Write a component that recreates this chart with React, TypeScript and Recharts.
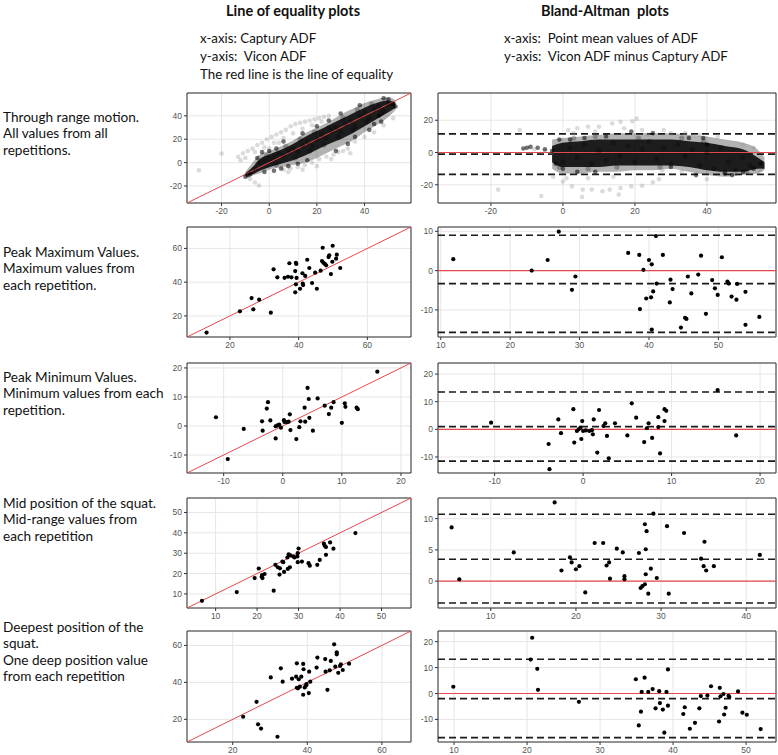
import React from "react"
import {
  ComposedChart,
  Scatter,
  Area,
  XAxis,
  YAxis,
  CartesianGrid,
  ReferenceLine,
  ReferenceArea,
} from "recharts"

type Pt = [number, number]
// [x, haloLow, coreLow, coreHigh, haloHigh] – outline of the dense point cloud
type Band = [number, number, number, number, number]

// ---- Through range motion: all values from all repetitions ----
const thruEqBand: Band[] = [
  [-10, -12.5, -11.5, -9, -8],
  [-7, -11, -10, -4, 0],
  [-4, -9, -7, 3, 7],
  [0, -6, -4, 7, 10],
  [5, -4, -1, 11, 14],
  [10, -2, 2, 16, 19],
  [15, 0, 6, 22, 25],
  [20, 4, 11, 27, 30],
  [25, 9, 16, 32, 35],
  [30, 14, 20, 37, 41],
  [35, 19, 25, 42, 46],
  [40, 26, 31, 47, 51],
  [45, 32, 37, 51, 54],
  [50, 39, 43, 53, 56],
  [53, 45, 47, 51, 53],
]
const thruEqGrey: Pt[] = [
  [-29.5, -6.6], [-20, 7.7], [-13, 5], [-11, 8], [-9, 10], [-7, 12], [-5, 15], [-3, 17],
  [-1, 20], [1, 22], [3, 24], [5, 26], [7, 28], [9, 31], [11, 33], [13, 34], [15, 35],
  [17, 36], [19, 37], [21, 38], [23, 39], [25, 40], [-4.3, -19.5], [6, -6], [9, -5],
  [12, -4], [15, -2], [18, 0], [21, 3], [24, 5], [27, 7], [29, 9], [31, 10], [33, 12],
  [36, 18], [40, 22], [44, 26], [48, 32], [52, 38], [-8, -14], [0, 12], [4, 17],
  [-10, 4], [-6, 9], [-2, 13], [2, 17], [6, 21], [10, 25], [14, 29], [18, 32], [22, 35],
  [-12, 2], [8, -8], [14, -6], [20, -3], [26, 3], [-6, -17], [34, 8],
]
const thruEqDark: Pt[] = [
  [-10, -12], [-9, -11], [-8, -10], [-5, 4], [-3, 9], [0, 10], [3, 12], [2, -7], [5, -5],
  [8, -3], [12, -1], [16, 2], [6, 18], [28, 10], [33, 16], [36, 22], [42, 28], [44, 33],
  [46, 40], [50, 54], [52, 50], [48, 55], [30, 42], [25, 36], [20, 31], [38, 49], [47, 35],
  [53, 48], [14, 25], [-2, -8],
]
const thruEqSpeck: Pt[] = [
  [-6, -5], [-4, 0], [-2, 2], [0, 3], [2, 5], [4, 8], [6, 6], [8, 10], [10, 12], [12, 9],
  [14, 15], [16, 18], [18, 14], [20, 20], [22, 24], [24, 21], [26, 27], [28, 30], [30, 26],
  [32, 33], [34, 36], [36, 31], [38, 40], [40, 43], [42, 38], [44, 46], [46, 48], [48, 44],
  [50, 50], [11, 4], [17, 10], [23, 15], [29, 22], [35, 28], [41, 35], [47, 42], [3, -2],
  [-1, 6], [7, 14], [13, 20], [19, 26], [25, 30], [31, 38], [37, 45], [43, 50],
]
const thruBaBand: Band[] = [
  [-3, -10, -6, 4, 8],
  [0, -13, -9, 6, 9],
  [5, -13, -9, 7, 10],
  [10, -12, -9, 8, 11],
  [15, -12, -8, 8, 12],
  [20, -11, -8, 8, 12],
  [25, -11, -8, 8, 12],
  [30, -10, -8, 8, 12],
  [35, -12, -9, 7, 11],
  [40, -14, -11, 6, 10],
  [45, -15, -12, 4, 8],
  [50, -14, -12, 2, 6],
  [54, -13, -10, -3, 2],
  [56, -11, -10, -6, -3],
]
const thruBaGrey: Pt[] = [
  [-18, -23], [-12, 14], [-6, -27], [1.5, 14], [4, 15], [7, 16], [10, 16], [13.7, 18],
  [16, 19], [19.3, 19.4], [20.5, 21], [22, 14], [23.6, 11], [-2.7, -15], [0, -18],
  [2.5, -21], [5.5, -23], [8, -23], [11, -24], [13, -23], [16, -22], [19, -21], [22, -20.6],
  [25, -18.5], [26.7, -16.5], [27.6, -11], [5.3, -27.6], [15.5, -26], [40, -16.5],
  [54.7, -11], [-8, 2], [-5, 1], [-3, 0], [30, 12], [34, 12], [38, 11], [43, 10], [50, 5],
  [53, 3], [3, 12], [9, 13], [17, 15], [28, 14], [1, -16], [7, -16], [14, -15], [33, -12],
]
const thruBaDark: Pt[] = [
  [-11, 2.5], [-10, 3], [-9, 3.5], [-7, 3], [-5, 2], [-3, 1], [-2, -7], [0, -10], [2, 8],
  [4, -12], [6, 9], [9, -12], [12, 10], [19, 13], [25, 12], [30, -9], [35, 9], [39, 9],
  [40, 5], [45, -13], [47, -14], [50, -12], [53, -10], [55, -7], [-1, 8], [37, -14],
]
const thruBaSpeck: Pt[] = [
  [0, -6], [2, 3], [4, -3], [6, 5], [8, -7], [10, 1], [12, -5], [14, 6], [16, -2], [18, 4],
  [20, -6], [22, 2], [24, 7], [26, -4], [28, 3], [30, -7], [32, 5], [34, -2], [36, 2],
  [38, -8], [40, 0], [42, -10], [44, 3], [46, -6], [48, -11], [50, -3], [52, -8], [3, 9],
  [9, 10], [15, -9], [21, 9], [27, -9], [33, 9], [39, 7], [45, -12], [51, -12], [-1, -9],
  [7, -10],
]
const thruBaLimits = [11.5, -1, -13.5]

// ---- Peak maximum values ----
const maxEq: Pt[] = [
  [13.2, 10.1], [22.9, 22.7], [26.3, 30.6], [26.8, 23.9], [28.5, 29.6], [31.9, 21.9],
  [32.7, 47.6], [33.8, 42.9], [35.9, 42.6], [36.9, 43.2], [37.3, 51.2], [37.9, 42.9],
  [39.0, 46.6], [39.2, 51.5], [39.3, 50.8], [39.4, 42.5], [39.2, 38.7], [39.0, 34.0],
  [40.4, 36.1], [41.1, 45.3], [41.2, 39.1], [41.3, 38.3], [41.9, 43.7], [42.5, 53.3],
  [43.1, 48.4], [43.9, 39.5], [44.8, 45.6], [45.3, 36.1], [46.4, 46.8], [46.8, 52.5],
  [47.2, 51.5], [47.6, 50.8], [48.0, 50.0], [48.7, 54.9], [48.9, 55.9], [49.4, 44.8],
  [49.8, 52.1], [50.9, 53.9], [51.1, 56.3], [52.1, 48.4], [47.0, 60.4], [49.9, 61.6],
]
const maxBa: Pt[] = [
  [11.8, 2.9], [23.1, 0], [25.4, 2.7], [27.0, 9.9], [28.9, -4.9], [29.4, -1.5], [37.0, 4.5],
  [38.6, 4.0], [38.7, -9.8], [39.2, 0.2], [39.6, -7.1], [40.0, 2.7], [40.3, -6.8],
  [40.4, 1.6], [40.4, -15], [40.6, -5.3], [41.1, -3.3], [41.0, 8.8], [42.0, 4.0],
  [43.0, -8.1], [43.1, -2.3], [43.4, -4.7], [44.6, -14.5], [45.2, -12], [45.4, -12.3],
  [45.6, -1.5], [46.1, -5.8], [47.1, -1.0], [47.5, 3.8], [48.2, -11], [49.1, -2.4],
  [49.5, -4.5], [49.9, -6.2], [50.5, 3.4], [51.3, -2.8], [51.5, -3.3], [51.9, -6.6],
  [52.6, -7.4], [52.7, -3.4], [53.9, -5.4], [53.9, -13.8], [55.9, -11.8],
]
const maxBaLimits = [9, -3.3, -15.7]

// ---- Peak minimum values ----
const minEq: Pt[] = [
  [-11.3, 3.0], [-9.3, -11.4], [-6.6, -1.0], [-3.5, 1.6], [-3.4, -1.6], [-2.7, 6.0],
  [-2.5, 8.2], [-2.1, 1.9], [-1.2, -4.3], [-1.2, -0.1], [-0.9, 0.2], [-0.6, 0.5],
  [-0.3, -0.6], [0.2, 2.0], [0.3, 1.4], [0.7, 1.3], [1.0, 1.5], [1.2, 4.0], [1.3, -1.4],
  [2.3, -4.5], [2.8, -0.4], [3.0, 1.6], [3.7, 6.3], [3.8, 1.5], [4.2, 13.1], [4.4, 9.3],
  [4.5, 2.8], [5.1, -1.6], [5.9, 9.5], [7.1, 7.0], [7.8, 4.1], [8.2, 6.3], [8.6, 8.2],
  [10.0, 1.1], [10.5, 7.8], [10.6, 6.6], [12.5, 6.3], [12.7, 5.8], [16.0, 18.7],
]
const minBa: Pt[] = [
  [-10.4, 2.4], [-3.9, -5.3], [-3.8, -14.4], [-2.8, 3.6], [-2.5, -1.4], [-1.1, 7.3],
  [-1.0, -4.8], [-0.7, -0.6], [-0.5, 0], [-0.3, 0.6], [-0.2, -3.5], [-0.1, 3.0], [0.0, -0.6],
  [0.3, -0.4], [0.7, -0.6], [1.0, -0.3], [1.1, -1.8], [1.2, 3.6], [1.6, -8.4], [1.8, 7.0],
  [2.3, 1.2], [2.5, 2.2], [2.7, -2.4], [2.9, -10.5], [3.6, 2.2], [5.0, -2.2], [5.5, 9.4],
  [6.0, 4.2], [6.9, -4.6], [7.2, 0.4], [7.4, 2.2], [7.8, -3.1], [8.5, 4.4], [8.5, 0.8],
  [8.7, -8.7], [9.2, 7.3], [9.4, 6.7], [9.2, 3.0], [15.2, 14.2], [17.3, -2.2],
]
const minBaLimits = [13.5, 1, -11.5]

// ---- Mid position of the squat ----
const midEq: Pt[] = [
  [6.7, 6.6], [15.1, 10.9], [19.4, 17.8], [20.4, 22.5], [21.1, 18.5], [21.2, 19.3],
  [21.3, 17.8], [21.8, 19.8], [24.0, 11.6], [24.4, 24.3], [25.0, 23.1], [25.4, 19.5],
  [25.5, 22.6], [26.1, 25.9], [26.5, 20.8], [26.3, 25.6], [27.3, 27.9], [27.4, 22.3],
  [27.6, 29.4], [27.9, 23.1], [28.0, 29.0], [28.7, 28.4], [29.0, 27.9], [29.7, 28.4],
  [29.8, 25.6], [29.8, 30.0], [30.0, 32.3], [30.8, 25.9], [32.4, 25.1], [32.7, 23.9],
  [34.5, 24.3], [35.1, 26.7], [36.1, 34.7], [36.3, 33.6], [36.6, 33.0], [36.6, 29.2],
  [37.6, 35.3], [38.4, 32.2], [43.7, 39.9],
]
const midBa: Pt[] = [
  [5.4, 8.6], [6.3, 0.3], [12.7, 4.6], [17.5, 12.6], [18.3, 1.7], [19.3, 3.8], [19.5, 3.0],
  [20.0, 1.9], [20.4, 2.4], [21.1, -1.8], [22.2, 6.1], [23.2, 6.1], [23.6, 2.5], [23.9, 3.0],
  [24.0, 0.4], [24.8, 5.2], [25.5, 4.6], [25.7, 0.8], [25.7, 0.3], [27.4, 4.5], [27.6, -1.1],
  [27.8, -0.8], [28.1, 9.1], [28.1, -0.5], [28.2, 5.1], [28.2, 1.1], [28.3, 8.0],
  [28.5, -2.0], [28.8, 2.0], [29.1, 10.8], [29.5, 0.5], [30.7, 8.8], [30.9, -2.0],
  [32.7, 7.7], [34.7, 3.6], [35.0, 2.4], [35.1, 6.3], [35.3, 1.7], [36.2, 2.4], [41.6, 4.2],
]
const midBaLimits = [10.7, 3.5, -3.5]

// ---- Deepest position of the squat ----
const deepEq: Pt[] = [
  [22.8, 21.4], [26.4, 29.5], [26.8, 17.3], [27.6, 15.0], [30.2, 42.7], [32.0, 10.6],
  [32.9, 47.6], [33.4, 40.4], [35.9, 42.0], [37.0, 43.1], [37.2, 50.3], [37.2, 37.1],
  [37.5, 36.8], [37.7, 41.7], [38.0, 37.7], [38.4, 43.1], [38.9, 50.0], [39.0, 47.1],
  [38.9, 33.3], [39.3, 37.3], [39.7, 38.4], [39.8, 39.1], [40.4, 34.2], [40.5, 45.8],
  [40.8, 40.4], [42.5, 48.0], [42.7, 53.4], [44.8, 52.6], [44.9, 45.8], [45.4, 36.0],
  [46.0, 46.5], [46.3, 51.6], [47.2, 60.6], [47.5, 48.5], [47.9, 56.3], [47.9, 55.2],
  [48.3, 45.2], [48.8, 48.9], [49.0, 49.8], [49.5, 46.7], [51.2, 50.1],
]
const deepBa: Pt[] = [
  [9.9, 2.6], [20.7, 21.5], [20.5, 13.1], [21.4, 9.5], [21.5, 1.4], [27.1, -3.2], [34.9, 5.5],
  [35.3, -12.3], [35.6, -7.0], [35.7, 0.6], [36.1, 6.1], [36.6, 0.6], [37.2, 1.7],
  [37.6, -5.7], [38.1, 0.9], [38.2, -3.7], [38.6, -6.2], [39.1, 0.6], [39.3, 9.3],
  [39.3, -4.7], [38.8, -15.1], [41.4, -7.9], [41.6, -5.3], [42.3, -13.6], [43.0, -11.3],
  [43.6, -5.7], [43.8, -1.0], [44.7, -0.8], [45.2, 2.8], [46.3, -10.8], [46.4, 2.2],
  [46.5, -1.1], [46.9, -0.2], [47.0, -8.1], [47.2, -5.5], [47.6, -0.9], [47.7, -1.3],
  [48.9, 0.8], [49.5, -7.4], [50.1, -8.2], [52.0, -13.7],
]
const deepBaLimits = [13.2, -2, -17]

const rowTitles = [
  ["Through range motion.", "All values from all", "repetitions."],
  ["Peak Maximum Values.", "Maximum values from", "each repetition."],
  ["Peak Minimum Values.", "Minimum values from each", "repetition."],
  ["Mid position of the squat.", "Mid-range values from", "each repetition"],
  ["Deepest position of the", "squat.", "One deep position value", "from each repetition"],
]

const RED = "#e5484d"
const AXIS_FONT = "'Liberation Sans', Arial, sans-serif"
const TEXT_FONT = "Lato, 'Open Sans', sans-serif"

type Layer = { pts: Pt[]; r: number; fill: string; opacity: number }

type PanelProps = {
  left: number
  top: number
  width: number
  height: number
  xDomain: [number, number]
  yDomain: [number, number]
  xTicks: number[]
  yTicks: number[]
  layers: Layer[]
  band?: Band[]
  limits?: number[]
}

function minors(major: number[]) {
  const step = major[1] - major[0]
  return [major[0] - step / 2, ...major.map((m) => m + step / 2)]
}

const MARGIN = { top: 2, right: 2, bottom: 0, left: 0 }

function Panel({ left, top, width, height, xDomain, yDomain, xTicks, yTicks, layers, band, limits }: PanelProps) {
  const rows = (band || []).map(([x, hl, cl, ch, hh]) => ({ x, halo: [hl, hh], core: [cl, ch] }))
  const tick = { fontSize: 8.5, fill: "#555", fontFamily: AXIS_FONT }
  const lo = Math.max(xDomain[0], yDomain[0])
  const hi = Math.min(xDomain[1], yDomain[1])
  const mx = minors(xTicks).filter((v) => v > xDomain[0] && v < xDomain[1])
  const my = minors(yTicks).filter((v) => v > yDomain[0] && v < yDomain[1])
  return (
    <div style={{ position: "absolute", left, top, width, height }}>
      {/* minor grid, drawn underneath */}
      <div style={{ position: "absolute", left: 0, top: 0 }}>
        <ComposedChart width={width} height={height} data={[]} margin={MARGIN}>
          <CartesianGrid stroke="#f1f1f1" strokeWidth={0.7} />
          <XAxis type="number" dataKey="x" domain={xDomain} ticks={mx} allowDataOverflow height={20} tick={false} tickLine={false} axisLine={false} />
          <YAxis type="number" dataKey="y" domain={yDomain} ticks={my} allowDataOverflow width={32} tick={false} tickLine={false} axisLine={false} />
        </ComposedChart>
      </div>
      <div style={{ position: "absolute", left: 0, top: 0 }}>
        <ComposedChart width={width} height={height} data={rows} margin={MARGIN}>
          <CartesianGrid stroke="#e6e6e6" strokeWidth={1} />
          <XAxis
            type="number"
            dataKey="x"
            domain={xDomain}
            ticks={xTicks}
            allowDataOverflow
            interval={0}
            height={20}
            tickSize={3}
            tickMargin={2}
            axisLine={false}
            tickLine={{ stroke: "#333" }}
            tick={tick}
          />
          <YAxis
            type="number"
            dataKey="y"
            domain={yDomain}
            ticks={yTicks}
            allowDataOverflow
            interval={0}
            width={32}
            tickSize={3}
            tickMargin={2}
            axisLine={false}
            tickLine={{ stroke: "#333" }}
            tick={tick}
          />
          {band && (
            <Area dataKey="halo" type="monotone" stroke="none" fill="#000" fillOpacity={0.3} dot={false} activeDot={false} isAnimationActive={false} />
          )}
          {band && (
            <Area dataKey="core" type="monotone" stroke="none" fill="#000" fillOpacity={0.84} dot={false} activeDot={false} isAnimationActive={false} />
          )}
          {layers.map((l, i) => (
            <Scatter
              key={i}
              data={l.pts.map(([x, y]) => ({ x, y }))}
              isAnimationActive={false}
              shape={(p: any) => <circle cx={p.cx} cy={p.cy} r={l.r} fill={l.fill} fillOpacity={l.opacity} />}
            />
          ))}
          {limits
            ? [
                <ReferenceLine key="zero" y={0} stroke={RED} strokeWidth={1.2} />,
                ...limits.map((v) => (
                  <ReferenceLine key={"l" + v} y={v} stroke="#1a1a1a" strokeWidth={1.7} strokeDasharray="7 4" />
                )),
              ]
            : (
              <ReferenceLine segment={[{ x: lo, y: lo }, { x: hi, y: hi }]} stroke={RED} strokeWidth={1} ifOverflow="visible" />
            )}
          <ReferenceArea x1={xDomain[0]} x2={xDomain[1]} y1={yDomain[0]} y2={yDomain[1]} fill="none" stroke="#333" strokeWidth={1} ifOverflow="visible" />
        </ComposedChart>
      </div>
    </div>
  )
}

const eqPts = (pts: Pt[]): Layer[] => [{ pts, r: 2.1, fill: "#000", opacity: 1 }]

export default function App() {
  const plotTops = [93, 227, 363, 498, 631]
  const L = { left: 155, width: 258 }
  const R = { left: 406, width: 372 }
  const h = 132
  const titleTops = [117, 252, 377, 503, 627]

  return (
    <div style={{ position: "absolute", left: 0, top: 0, width: 778, height: 755, background: "#fff", fontFamily: TEXT_FONT, color: "#111" }}>
      <div style={{ position: "absolute", left: 226, top: 2, fontSize: 14.5, fontWeight: 700 }}>Line of equality plots</div>
      <div style={{ position: "absolute", left: 541, top: 2, fontSize: 14.5, fontWeight: 700, whiteSpace: "pre" }}>Bland-Altman  plots</div>
      <div style={{ position: "absolute", left: 200, top: 29, fontSize: 13.3, lineHeight: "18px", whiteSpace: "pre" }}>
        <div>x-axis: Captury ADF</div>
        <div>y-axis:  Vicon ADF</div>
        <div>The red line is the line of equality</div>
      </div>
      <div style={{ position: "absolute", left: 504, top: 29, fontSize: 13.3, lineHeight: "18px", whiteSpace: "pre" }}>
        <div>x-axis:  Point mean values of ADF</div>
        <div>y-axis:  Vicon ADF minus Captury ADF</div>
      </div>

      {rowTitles.map((lines, i) => (
        <div key={i} style={{ position: "absolute", left: 3, top: titleTops[i] - 8, fontSize: 13.6, lineHeight: "16.3px" }}>
          {lines.map((t) => (
            <div key={t}>{t}</div>
          ))}
        </div>
      ))}

      <Panel
        {...L} top={plotTops[0] - 2} height={h}
        xDomain={[-34.5, 59.5]} yDomain={[-34.5, 59.5]}
        xTicks={[-20, 0, 20, 40]} yTicks={[-20, 0, 20, 40]}
        band={thruEqBand}
        layers={[
          { pts: thruEqGrey, r: 2.3, fill: "#888", opacity: 0.3 },
          { pts: thruEqSpeck, r: 2.6, fill: "#000", opacity: 0.25 },
          { pts: thruEqDark, r: 2.3, fill: "#000", opacity: 0.55 },
        ]}
      />
      <Panel
        {...R} top={plotTops[0] - 2} height={h}
        xDomain={[-34.7, 59.2]} yDomain={[-31.3, 36.9]}
        xTicks={[-20, 0, 20, 40]} yTicks={[-20, 0, 20]}
        band={thruBaBand}
        layers={[
          { pts: thruBaGrey, r: 2.3, fill: "#888", opacity: 0.3 },
          { pts: thruBaSpeck, r: 2.6, fill: "#000", opacity: 0.25 },
          { pts: thruBaDark, r: 2.3, fill: "#000", opacity: 0.55 },
        ]}
        limits={thruBaLimits}
      />

      <Panel
        {...L} top={plotTops[1] - 2} height={h}
        xDomain={[7.5, 72.7]} yDomain={[7.5, 72.7]}
        xTicks={[20, 40, 60]} yTicks={[20, 40, 60]}
        layers={eqPts(maxEq)}
      />
      <Panel
        {...R} top={plotTops[1] - 2} height={h}
        xDomain={[9.6, 58.3]} yDomain={[-16.9, 11.1]}
        xTicks={[10, 20, 30, 40, 50]} yTicks={[-10, 0, 10]}
        layers={eqPts(maxBa)}
        limits={maxBaLimits}
      />

      <Panel
        {...L} top={plotTops[2] - 2} height={h}
        xDomain={[-16.2, 21.7]} yDomain={[-16.2, 21.7]}
        xTicks={[-10, 0, 10, 20]} yTicks={[-10, 0, 10, 20]}
        layers={eqPts(minEq)}
      />
      <Panel
        {...R} top={plotTops[2] - 2} height={h}
        xDomain={[-16.4, 21.8]} yDomain={[-15.8, 24]}
        xTicks={[-10, 0, 10, 20]} yTicks={[-10, 0, 10, 20]}
        layers={eqPts(minBa)}
        limits={minBaLimits}
      />

      <Panel
        {...L} top={plotTops[3] - 2} height={h}
        xDomain={[3.1, 57.1]} yDomain={[3.1, 57.1]}
        xTicks={[10, 20, 30, 40, 50]} yTicks={[10, 20, 30, 40, 50]}
        layers={eqPts(midEq)}
      />
      <Panel
        {...R} top={plotTops[3] - 2} height={h}
        xDomain={[3.8, 43.5]} yDomain={[-4.3, 13.3]}
        xTicks={[10, 20, 30, 40]} yTicks={[0, 5, 10]}
        layers={eqPts(midBa)}
        limits={midBaLimits}
      />

      <Panel
        {...L} top={plotTops[4] - 2} height={h + 1}
        xDomain={[7.75, 67.8]} yDomain={[7.75, 67.8]}
        xTicks={[20, 40, 60]} yTicks={[20, 40, 60]}
        layers={eqPts(deepEq)}
      />
      <Panel
        {...R} top={plotTops[4] - 2} height={h + 1}
        xDomain={[7.8, 54.1]} yDomain={[-18.7, 24.1]}
        xTicks={[10, 20, 30, 40, 50]} yTicks={[-10, 0, 10, 20]}
        layers={eqPts(deepBa)}
        limits={deepBaLimits}
      />
    </div>
  )
}
